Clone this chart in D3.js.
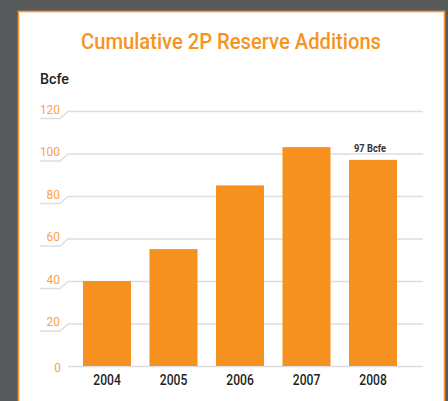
<!DOCTYPE html>
<html>
<head>
<meta charset="utf-8">
<script src="https://cdn.jsdelivr.net/npm/d3@7"></script>
<style>
  html, body { margin: 0; padding: 0; background: #58595b; }
  svg { display: block; }
  text { font-family: Roboto, "Noto Sans", sans-serif; }
</style>
</head>
<body>
<svg id="chart" width="448" height="401"></svg>
<script>
// Cumulative 2P reserve additions, Bcfe
const years = ["2004", "2005", "2006", "2007", "2008"];
const reserves = [40, 55, 85, 103, 97];
const yTicks = [0, 20, 40, 60, 80, 100, 120];
const calloutYear = "2008";
const calloutText = "97 Bcfe";

const orange = "#f6901e";
const svg = d3.select("#chart");

// white card with thin orange border
svg.append("rect")
  .attr("x", 18.5).attr("y", 11.5)
  .attr("width", 426).attr("height", 400)
  .attr("fill", "#ffffff")
  .attr("stroke", "#f7953a")
  .attr("stroke-width", 1.6);

svg.append("text")
  .attr("x", 231).attr("y", 48.5)
  .attr("text-anchor", "middle")
  .attr("font-size", 21.5)
  .attr("font-weight", 500)
  .attr("fill", "#f7941d")
  .attr("textLength", 300)
  .attr("lengthAdjust", "spacingAndGlyphs")
  .text("Cumulative 2P Reserve Additions");

svg.append("text")
  .attr("x", 40).attr("y", 84)
  .attr("font-size", 14)
  .attr("font-weight", 500)
  .attr("fill", "#231f20")
  .attr("textLength", 29)
  .attr("lengthAdjust", "spacingAndGlyphs")
  .text("Bcfe");

const y = d3.scaleLinear().domain([0, 120]).range([366, 111]);
const x = d3.scaleBand().domain(years)
  .range([73.75, 406.25])
  .paddingInner(0.278)
  .paddingOuter(0.139);

// y axis: orange labels with a stepped gridline running across the plot
const yAxis = svg.append("g")
  .attr("transform", "translate(60,0)")
  .call(d3.axisLeft(y).tickValues(yTicks).tickSize(0).tickPadding(0));
yAxis.select(".domain").remove();
yAxis.selectAll(".tick text")
  .attr("dy", 0)
  .attr("y", d => d === 0 ? 5 : 2)
  .attr("x", d => d === 0 ? 1 : 0)
  .attr("font-size", 13.5)
  .attr("font-family", "Roboto, 'Noto Sans', sans-serif")
  .attr("fill", "#f7a24c")
  .attr("textLength", d => String(d).length * 6.7)
  .attr("lengthAdjust", "spacingAndGlyphs");
yAxis.selectAll(".tick").append("path")
  .attr("d", d => d === 0 ? "M8,0H363" : "M-20,7H0L8,0H363")
  .attr("fill", "none")
  .attr("stroke", "#dedede")
  .attr("stroke-width", 1.5);

svg.append("g")
  .selectAll("rect")
  .data(years.map((yr, i) => ({ year: yr, value: reserves[i] })))
  .join("rect")
  .attr("x", d => x(d.year))
  .attr("y", d => y(d.value))
  .attr("width", x.bandwidth())
  .attr("height", d => y(0) - y(d.value))
  .attr("fill", orange);

const xAxis = svg.append("g")
  .attr("transform", "translate(0,366)")
  .call(d3.axisBottom(x).tickSize(0).tickPadding(0));
xAxis.select(".domain").remove();
xAxis.selectAll(".tick text")
  .attr("dy", 0)
  .attr("y", 19)
  .attr("font-size", 14)
  .attr("font-weight", 500)
  .attr("font-family", "Roboto, 'Noto Sans', sans-serif")
  .attr("fill", "#231f20")
  .attr("textLength", 27.5)
  .attr("lengthAdjust", "spacingAndGlyphs");

const calloutValue = reserves[years.indexOf(calloutYear)];
svg.append("text")
  .attr("x", x(calloutYear) + x.bandwidth() / 2 - 3)
  .attr("y", y(calloutValue) - 8)
  .attr("text-anchor", "middle")
  .attr("font-size", 10.5)
  .attr("font-weight", 700)
  .attr("fill", "#333333")
  .attr("textLength", 32)
  .attr("lengthAdjust", "spacingAndGlyphs")
  .text(calloutText);
</script>
</body>
</html>
